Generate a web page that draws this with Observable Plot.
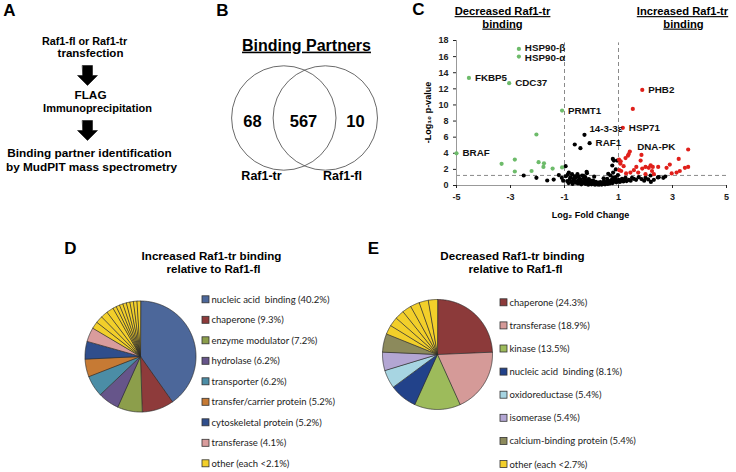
<!DOCTYPE html>
<html><head><meta charset="utf-8">
<script src="https://cdn.jsdelivr.net/npm/d3@7"></script>
<script src="https://cdn.jsdelivr.net/npm/@observablehq/plot@0.6"></script>
<style>
html,body{margin:0;padding:0;background:#fff;}
#fig{position:relative;width:736px;height:472px;overflow:hidden;background:#fff;}
#fig svg{position:absolute;left:0;top:0;}
</style></head><body><div id="fig"></div>
<script>
// ---------- DATA ----------
const workflowSteps = [["Raf1-fl or Raf1-tr", "transfection"], ["FLAG", "Immunoprecipitation"], ["Binding partner identification", "by MudPIT mass spectrometry"]];
const vennTitle = "Binding Partners";
const vennSets = ["Raf1-tr", "Raf1-fl"];
const vennCounts = [68, 567, 10];

// volcano: [log2 fold change, -log10 p]
const greenPts = [[-2.69,16.96],[-2.69,16.0],[-4.54,13.36],[-3.05,12.7],[-1.09,9.3],[-2.04,6.33],[-5.0,4.0],[-3.33,2.69],[-2.84,3.22],[-2.84,1.74],[-1.96,2.9],[-1.76,2.75],[-1.78,2.3],[-2.22,1.8],[-1.44,2.1],[-1.09,2.25]];
const redPts = [[1.88,11.87],[1.53,9.5],[1.16,7.16],[3.58,4.47],[1.42,4.22],[1.35,3.7],[1.85,3.8],[3.23,3.3],[1.02,3.2],[1.08,3.0],[1.19,2.4],[1.07,2.7],[1.03,1.9],[1.26,3.4],[1.38,3.9],[1.28,1.5],[1.44,1.6],[1.57,1.9],[1.66,2.3],[1.73,1.6],[1.82,3.1],[1.88,2.1],[2.0,2.3],[2.12,2.2],[2.19,2.5],[2.27,2.3],[2.24,1.8],[2.31,1.4],[2.0,1.4],[2.9,2.6],[2.97,1.5],[3.15,1.6],[3.27,1.8],[3.46,2.2],[3.58,2.3],[2.78,2.2],[2.47,2.3],[1.1,1.8]];
const blackPts = [[-2.51,1.24],[-2.04,0.95],[-1.64,0.62],[-1.40,0.74],[-1.21,1.30],[-0.96,2.40],[-0.84,1.60],[-0.78,1.0],
[-0.62,5.09],[-0.41,4.63],[-0.26,6.29],[-0.07,5.25],
[-0.72,1.40],[-0.60,0.95],[-0.47,0.70],[-0.35,1.24],[-0.23,1.03],[-0.17,1.53],[-0.04,0.62],[0.08,0.41],[0.21,0.29],[0.33,0.41],[0.46,0.54],[0.58,0.83],[0.70,1.24],[0.77,2.48],[0.83,3.10],[0.89,1.03],[1.01,0.70],[1.13,0.83],[1.26,0.95],[1.38,0.70],[1.57,0.83],[1.75,1.03],[2.0,0.95],[2.19,1.24],[2.31,0.70],[2.49,1.03],[2.73,1.12],
[-0.90,0.55],[-0.85,0.30],[-0.80,0.80],[-0.75,0.45],[-0.70,0.20],[-0.66,0.65],[-0.62,1.15],[-0.58,0.35],[-0.55,0.50],[-0.50,0.25],[-0.48,1.10],[-0.45,0.40],[-0.42,0.80],[-0.38,0.15],[-0.35,0.55],[-0.32,0.30],[-0.28,0.90],[-0.25,0.45],[-0.22,0.20],[-0.20,0.65],[-0.15,0.35],[-0.12,0.10],[-0.10,0.80],[-0.06,0.25],[-0.02,0.45],[0.00,0.15],[0.04,0.30],[0.06,0.60],[0.10,0.20],[0.13,0.10],[0.16,0.45],[0.18,0.25],[0.22,0.15],[0.25,0.35],[0.28,0.10],[0.30,0.20],[0.35,0.25],[0.38,0.12],[0.40,0.30],[0.43,0.20],[0.48,0.35],[0.50,0.15],[0.53,0.28],[0.56,0.45],[0.60,0.20],[0.63,0.35],[0.66,0.55],[0.68,0.25],[0.72,0.40],[0.75,0.70],[0.78,0.30],[0.80,0.95],[0.84,0.50],[0.87,0.75],[0.92,0.40],[0.95,0.60],[0.98,1.30],[1.05,0.45],[1.10,0.60],[1.18,0.50],[1.22,0.75],[1.30,0.55],[1.45,0.60],[1.50,0.95],[1.65,0.70],[1.85,0.80],[1.95,0.60],[2.10,0.75],[2.20,0.45],[2.46,1.0],[2.66,0.95],
[-1.10,0.95],[-1.05,0.60],[-0.95,1.15],[-0.88,1.35],[-0.65,0.90],[-0.52,1.40],[-0.30,1.20],[-0.18,1.70],[0.10,1.10],[0.45,0.90],[0.62,1.45],[0.79,3.30],[0.95,3.10],[0.90,2.0],[0.80,1.6]];
const geneNames = ["HSP90-β","HSP90-α","FKBP5","CDC37","PRMT1","BRAF","14-3-3ε","RAF1","HSP71","PHB2","DNA-PK"];
const geneFC    = [-2.69,-2.69,-4.54,-3.05,-1.09,-5.0,-0.30,-0.07,1.16,1.88,1.47];
const geneP     = [16.96,16.0,13.36,12.7,9.3,4.0,7.07,5.25,7.16,11.87,4.75];
const xTicks = [-5,-3,-1,1,3,5];
const yTicks = [0,2,4,6,8,10,12,14,16,18];
const foldCutoffs = [-1, 1];
const pCutoff = 1.25;
const volcanoTitles = [["Decreased Raf1-tr","binding"],["Increased Raf1-tr","binding"]];
const xAxisTitle = "Log₂ Fold Change";
const yAxisTitle = "-Log₁₀ p-value";

// pie D
const incTitle = ["Increased Raf1-tr binding", "relative to Raf1-fl"];
const incCategories = ["nucleic acid  binding (40.2%)","chaperone (9.3%)","enzyme modulator (7.2%)","hydrolase (6.2%)","transporter (6.2%)","transfer/carrier protein (5.2%)","cytoskeletal protein (5.2%)","transferase (4.1%)","other (each <2.1%)"];
const incCounts = [39,9,7,6,6,5,5,4];
const incOtherCounts = [2,2,2,2,1,1,1,1,1,1,1,1];
const incColors = ["#4c679a","#8e3b3b","#8c9e4b","#66558a","#4b8da6","#c67a34","#2f4e8c","#d99c9c","#f2cf2a"];
// pie E
const decTitle = ["Decreased Raf1-tr binding", "relative to Raf1-fl"];
const decCategories = ["chaperone (24.3%)","transferase (18.9%)","kinase (13.5%)","nucleic acid  binding (8.1%)","oxidoreductase (5.4%)","isomerase (5.4%)","calcium-binding protein (5.4%)","other (each <2.7%)"];
const decCounts = [9,7,5,3,2,2,2];
const decOtherCounts = [1,1,1,1,1,1,1];
const decColors = ["#8c3a3a","#d59a98","#9dbb5b","#22428a","#a7d5e2","#b3a6d3","#8c8a5c","#f2cf2a"];

// ---------- LAYOUT ----------
const W = 736, H = 472;
const bold = [];
bold.push({t:"A", x:9, y:10, s:17});
const stepPos = [[{x:84,y:41,s:10.8},{x:90,y:52.5,s:11.5}],[{x:90,y:95,s:11.8},{x:97,y:107.5,s:11}],[{x:89,y:153,s:11.8},{x:91,y:166.5,s:11.8}]];
workflowSteps.forEach((lines,i)=>lines.forEach((t,j)=>bold.push({t, ...stepPos[i][j]})));
bold.push({t:"B", x:222, y:10, s:17});
bold.push({t:vennTitle, x:306, y:45, s:16});
[252,303,355].forEach((x,i)=>bold.push({t:String(vennCounts[i]), x, y:121, s:16.5}));
[261,342].forEach((x,i)=>bold.push({t:vennSets[i], x, y:175, s:12.5}));
bold.push({t:"C", x:418, y:9, s:17});
[[502,502],[682,683]].forEach((xs,i)=>volcanoTitles[i].forEach((t,j)=>bold.push({t, x:xs[j], y:11+12.5*j, s:11.2})));
bold.push({t:xAxisTitle, x:590, y:215, s:9});
bold.push({t:"D", x:70, y:248, s:17});
incTitle.forEach((t,j)=>bold.push({t, x:[211,213][j], y:255.5+12.8*j, s:11.6}));
bold.push({t:"E", x:373, y:248, s:17});
decTitle.forEach((t,j)=>bold.push({t, x:[512,515][j], y:255.5+12.8*j, s:11.6}));

const underlined = new Set([vennTitle, ...volcanoTitles.flat()]);

// arrows (panel A)
function arrowPoly(cx, top){
  return [[cx-5,top],[cx+5,top],[cx+5,top+10],[cx+10,top+10],[cx,top+20],[cx-10,top+10],[cx-5,top+10]].map(([x,y])=>({x,y}));
}
const arrows = [arrowPoly(87,65), arrowPoly(87,120)];

// pies
function pieSlices(counts, colors, cx, cy, r){
  const arcs = d3.pie().sort(null).value(d=>d.v)(counts.map((v,i)=>({v, c:colors[i]})));
  return arcs.map(a=>{
    const pts=[{x:cx,y:cy}];
    const n=Math.max(2, Math.ceil((a.endAngle-a.startAngle)/0.01));
    for(let k=0;k<=n;k++){const t=a.startAngle+(a.endAngle-a.startAngle)*k/n; pts.push({x:cx+r*Math.sin(t), y:cy-r*Math.cos(t)});}
    return {pts, color:a.data.c};
  });
}
const yellowInc = incColors[incColors.length-1], yellowDec = decColors[decColors.length-1];
const incSlices = pieSlices([...incCounts, ...incOtherCounts], [...incColors.slice(0,incCounts.length), ...incOtherCounts.map(()=>yellowInc)], 140, 356, 55.5);
const decSlices = pieSlices([...decCounts, ...decOtherCounts], [...decColors.slice(0,decCounts.length), ...decOtherCounts.map(()=>yellowDec)], 437, 354, 55);

const legendRows = [
  ...incCategories.map((t,i)=>({t, color:incColors[i], mx:202, y:299.3+20.5*i})),
  ...decCategories.map((t,i)=>({t, color:decColors[i], mx:500, y:302.3+23.1*i}))
];

const base = Plot.plot({
  width:W, height:H, margin:0,
  x:{domain:[0,W], range:[0,W], axis:null},
  y:{domain:[0,H], range:[0,H], axis:null},
  color:{type:"identity"},
  style:{background:"#fff", fontFamily:"'Liberation Sans', Arial, sans-serif"},
  marks:[
    ...arrows.map(a=>Plot.line(a,{x:"x",y:"y",fill:"#000",stroke:"#000",strokeWidth:0.5,curve:"linear-closed"})),
    Plot.dot([{x:283.3,y:117.5},{x:324.8,y:117.5}],{x:"x",y:"y",r:52.2,stroke:"#444",strokeWidth:0.8,fill:"none"}),
    ...incSlices.map(s=>Plot.line(s.pts,{x:"x",y:"y",fill:s.color,stroke:"#2a2a2a",strokeWidth:0.7,curve:"linear-closed"})),
    ...decSlices.map(s=>Plot.line(s.pts,{x:"x",y:"y",fill:s.color,stroke:"#2a2a2a",strokeWidth:0.7,curve:"linear-closed"})),
    Plot.rect(legendRows,{x1:d=>d.mx,x2:d=>d.mx+7,y1:d=>d.y-3.5,y2:d=>d.y+3.5,fill:d=>d.color,stroke:"#333",strokeWidth:0.8}),
    Plot.text(legendRows,{x:d=>d.mx+9,y:"y",text:"t",textAnchor:"start",fontSize:9.5,fontFamily:"Lato, 'Open Sans', sans-serif",fill:"#222"}),
    Plot.text(bold,{x:"x",y:"y",text:"t",fontSize:d=>d.s,fontWeight:"bold",fill:"#000"}),
    Plot.text([{t:yAxisTitle, x:428, y:112}],{x:"x",y:"y",text:"t",rotate:-90,fontSize:9,fontWeight:"bold",fill:"#000"})
  ]
});
d3.select(base).selectAll("text").filter(function(){return underlined.has(this.textContent);}).style("text-decoration","underline");

const labelNudge = [-1.5, 1.5, 0, 0, 0, 0, 0, 0, 0, 0, 0];
const labels = geneNames.map((name,i)=>({name, x:geneFC[i], y:geneP[i], n:labelNudge[i]}));
const nudges = [...new Set(labelNudge)];
const volcano = Plot.plot({
  width:W, height:H, marginLeft:456, marginRight:10, marginTop:40, marginBottom:287,
  x:{domain:[-5,5]}, y:{domain:[0,18]},
  style:{background:"transparent", fontFamily:"'Liberation Sans', Arial, sans-serif", fontSize:"9px", fontWeight:"bold", color:"#222", overflow:"visible"},
  marks:[
    Plot.ruleX(foldCutoffs,{y1:0,y2:17.7,stroke:"#8a8a8a",strokeDasharray:"4,3"}),
    Plot.ruleY([pCutoff],{x1:-5,x2:5,stroke:"#8a8a8a",strokeDasharray:"4,3"}),
    Plot.ruleY([0],{stroke:"#999"}),
    Plot.ruleX([-5],{y1:0,y2:18,stroke:"#999"}),
    Plot.axisX({ticks:xTicks, tickSize:3, tickPadding:5, label:null, tickFormat:d=>String(d)}),
    Plot.axisY({ticks:yTicks, tickSize:3, tickPadding:5, label:null, tickFormat:d=>String(d)}),
    Plot.dot(blackPts,{x:d=>d[0],y:d=>d[1],r:2.1,fill:"#000"}),
    Plot.dot(greenPts,{x:d=>d[0],y:d=>d[1],r:2.1,fill:"#6dbb6a"}),
    Plot.dot(redPts,{x:d=>d[0],y:d=>d[1],r:2.1,fill:"#e0201b"}),
    ...nudges.map(n=>Plot.text(labels.filter(d=>d.n===n),{x:"x",y:"y",text:"name",dx:6,dy:n,textAnchor:"start",fontSize:9.8,fontWeight:"bold",fill:"#111"}))
  ]
});
const fig = document.getElementById("fig");
fig.appendChild(base);
fig.appendChild(volcano);
</script></body></html>
